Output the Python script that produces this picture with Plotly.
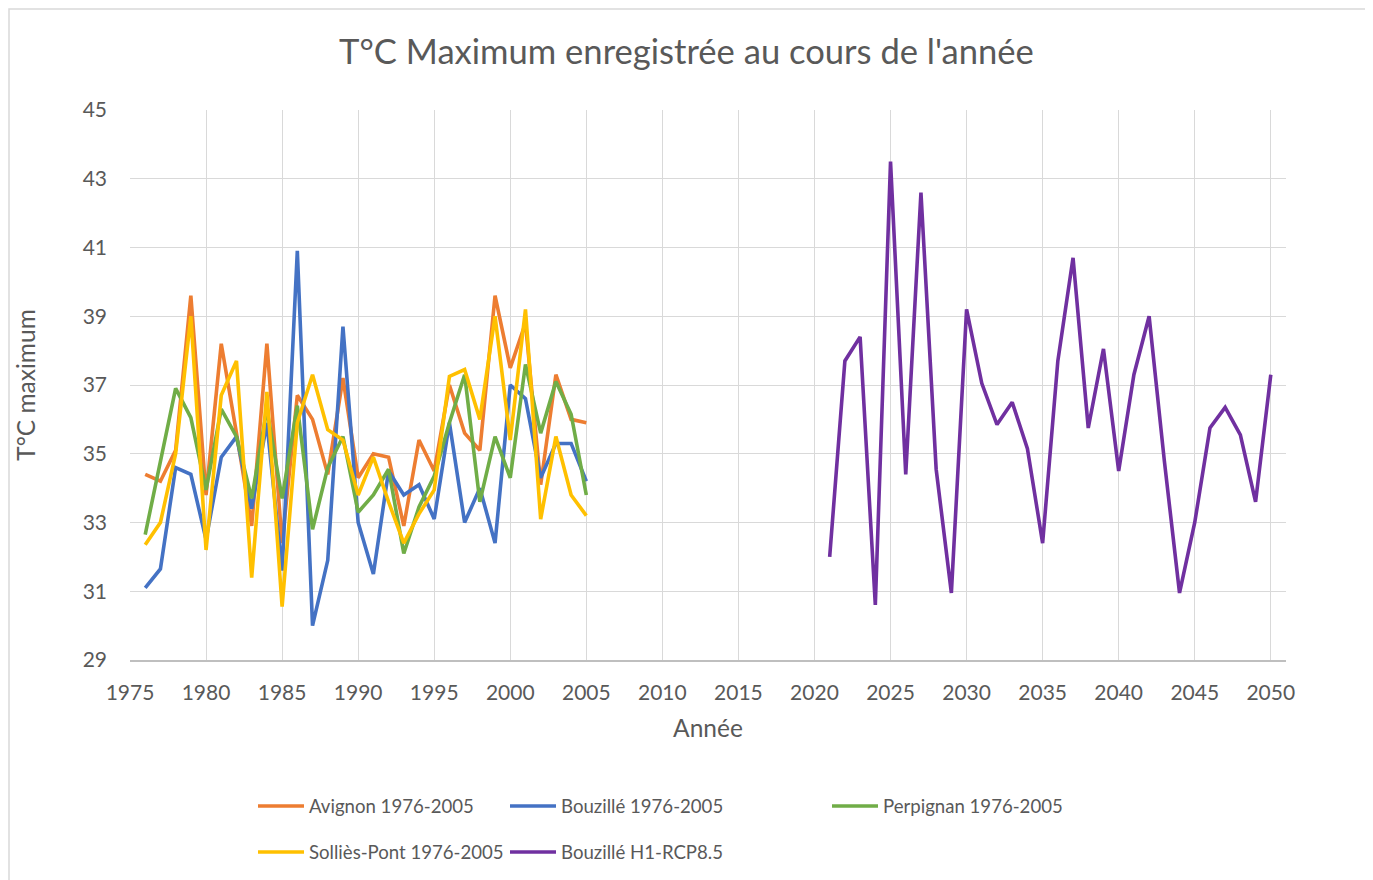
import plotly.graph_objects as go

years_hist = [1976, 1977, 1978, 1979, 1980, 1981, 1982, 1983, 1984, 1985,
              1986, 1987, 1988, 1989, 1990, 1991, 1992, 1993, 1994, 1995,
              1996, 1997, 1998, 1999, 2000, 2001, 2002, 2003, 2004, 2005]
years_proj = [2021, 2022, 2023, 2024, 2025, 2026, 2027, 2028, 2029, 2030,
              2031, 2032, 2033, 2034, 2035, 2036, 2037, 2038, 2039, 2040,
              2041, 2042, 2043, 2044, 2045, 2046, 2047, 2048, 2049, 2050]

avignon = [34.4, 34.2, 35.1, 39.6, 33.8, 38.2, 35.6, 32.9, 38.2, 32.4,
           36.7, 36.0, 34.4, 37.2, 34.3, 35.0, 34.9, 32.9, 35.4, 34.5,
           37.0, 35.6, 35.1, 39.6, 37.5, 38.8, 34.1, 37.3, 36.0, 35.9]
bouzille = [31.1, 31.65, 34.6, 34.4, 32.5, 34.9, 35.5, 33.4, 35.9, 31.6,
            40.9, 30.0, 31.9, 38.7, 33.0, 31.5, 34.5, 33.8, 34.1, 33.1,
            35.9, 33.0, 34.0, 32.4, 37.0, 36.6, 34.3, 35.3, 35.3, 34.2]
perpignan = [32.65, 34.75, 36.9, 36.05, 33.95, 36.3, 35.5, 33.7, 36.3, 33.7,
             36.4, 32.8, 34.6, 35.5, 33.3, 33.8, 34.55, 32.1, 33.45, 34.35,
             35.9, 37.3, 33.6, 35.5, 34.3, 37.6, 35.6, 37.1, 36.15, 33.8]
sollies = [32.35, 33.0, 35.0, 39.0, 32.2, 36.7, 37.7, 31.4, 36.8, 30.55,
           35.9, 37.3, 35.7, 35.4, 33.8, 34.9, 33.6, 32.4, 33.25, 33.95,
           37.25, 37.45, 36.0, 39.0, 35.4, 39.2, 33.1, 35.5, 33.8, 33.2]
bouzille_rcp = [32.0, 37.7, 38.4, 30.6, 43.5, 34.4, 42.6, 34.55, 30.95, 39.2,
                37.05, 35.85, 36.5, 35.15, 32.4, 37.7, 40.7, 35.75, 38.05, 34.5,
                37.3, 39.0, 34.8, 30.95, 33.0, 35.75, 36.35, 35.55, 33.6, 37.3]

series_names = ["Avignon 1976-2005", "Bouzillé 1976-2005", "Perpignan 1976-2005",
                "Solliès-Pont 1976-2005", "Bouzillé H1-RCP8.5"]
series_x = [years_hist, years_hist, years_hist, years_hist, years_proj]
series_y = [avignon, bouzille, perpignan, sollies, bouzille_rcp]
colors = ["#ED7D31", "#4472C4", "#70AD47", "#FFC000", "#7030A0"]

title_text = "T°C Maximum enregistrée au cours de l'année"
x_title = "Année"
y_title = "T°C maximum"

# The page body adds an 8px offset; figure coords = page coords - 8
OFF = 8
W, H = 1373, 880
ML, MR, MT, MB = 122, 95, 102, 228
PW, PH = W - ML - MR, H - MT - MB
FONT = "Lato"
TXT = "#595959"
LW = 3.6

fig = go.Figure()
for name, xs, ys, c in zip(series_names, series_x, series_y, colors):
    fig.add_trace(go.Scatter(x=xs, y=ys, mode="lines", name=name,
                             line=dict(color=c, width=LW), showlegend=False))

def px2paper_x(px):
    return (px - OFF - ML) / PW

def px2paper_y(py):
    return (H - MB - (py - OFF)) / PH

shapes = []
annotations = []
# chart border
shapes.append(dict(type="rect", xref="paper", yref="paper",
                   x0=px2paper_x(OFF + 1), x1=px2paper_x(1369),
                   y0=px2paper_y(900), y1=px2paper_y(OFF + 1),
                   line=dict(color="#d9d9d9", width=1.5), layer="below"))

# Excel-like legend
legend_pos = [(258, 806), (510, 806), (832, 806), (258, 852), (510, 852)]
for (lx, ly), name, c in zip(legend_pos, series_names, colors):
    shapes.append(dict(type="line", xref="paper", yref="paper",
                       x0=px2paper_x(lx), x1=px2paper_x(lx + 46),
                       y0=px2paper_y(ly), y1=px2paper_y(ly),
                       line=dict(color=c, width=LW)))
    annotations.append(dict(xref="paper", yref="paper",
                            x=px2paper_x(lx + 49), y=px2paper_y(ly),
                            xanchor="left", yanchor="middle", showarrow=False,
                            text=name, font=dict(family=FONT, size=18.6, color=TXT)))

fig.update_layout(
    width=W, height=H,
    margin=dict(l=ML, r=MR, t=MT, b=MB),
    paper_bgcolor="white", plot_bgcolor="white",
    title=dict(text=title_text, x=(686.5 - OFF) / W, xref="container",
               y=1 - (52 - OFF) / H, yref="container",
               xanchor="center", yanchor="middle",
               font=dict(family=FONT, size=34.6, color=TXT)),
    shapes=shapes, annotations=annotations,
    showlegend=False,
    font=dict(family=FONT, color=TXT),
)

fig.update_xaxes(range=[1975, 2051], tick0=1975, dtick=5, showgrid=True,
                 gridcolor="#d9d9d9", gridwidth=1, zeroline=False,
                 showline=True, linecolor="#bfbfbf", linewidth=1.5,
                 ticks="", ticklabelstandoff=13,
                 tickfont=dict(family=FONT, size=21, color=TXT),
                 title=dict(text=x_title, standoff=17,
                            font=dict(family=FONT, size=24.5, color=TXT)))
fig.update_yaxes(range=[29, 45], tick0=29, dtick=2, showgrid=True,
                 gridcolor="#d9d9d9", gridwidth=1, zeroline=False,
                 showline=False, ticks="", ticklabelstandoff=22,
                 tickfont=dict(family=FONT, size=21, color=TXT),
                 title=dict(text=y_title, standoff=40,
                            font=dict(family=FONT, size=24.5, color=TXT)))

fig.write_html("out.html")
